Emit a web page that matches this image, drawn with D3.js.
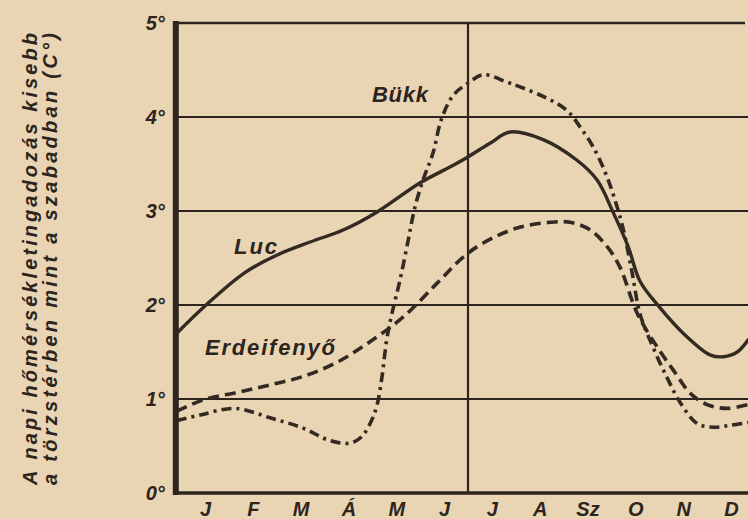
<!DOCTYPE html>
<html>
<head>
<meta charset="utf-8">
<script src="https://cdn.jsdelivr.net/npm/d3@7"></script>
<style>
  html, body { margin: 0; padding: 0; background: #e9d5b3; }
  svg { display: block; }
</style>
</head>
<body>
<svg id="chart" width="748" height="519"></svg>
<script>
// ---- data (month index 0 = January, values in °C) ----
const months = ["J", "F", "M", "Á", "M", "J", "J", "A", "Sz", "O", "N", "D"];
const yTicks = [0, 1, 2, 3, 4, 5];
const yTitle = ["A napi hőmérsékletingadozás kisebb", "a törzstérben mint a szabadban (C°)"];
const seriesNames = ["Luc", "Bükk", "Erdeifenyő"];

const luc = [
  [-0.59, 1.70], [0, 1.99], [0.82, 2.34], [1.5, 2.53], [2.2, 2.67], [2.9, 2.80],
  [3.6, 2.99], [4.5, 3.30], [5.13, 3.47], [5.48, 3.57], [5.96, 3.72], [6.38, 3.84],
  [7.07, 3.76], [7.78, 3.54], [8.2, 3.33], [8.54, 2.98], [8.85, 2.62], [9.1, 2.25],
  [9.5, 1.98], [10.0, 1.70], [10.56, 1.47], [10.84, 1.45], [11.13, 1.50], [11.36, 1.63]
];
const bukk = [
  [-0.59, 0.77], [-0.1, 0.83], [0.63, 0.90], [1.36, 0.80], [2.05, 0.69], [2.6, 0.56],
  [3.03, 0.53], [3.28, 0.60], [3.49, 0.78], [3.6, 0.94], [3.7, 1.23], [3.8, 1.63],
  [3.91, 1.91], [4.08, 2.27], [4.25, 2.69], [4.39, 3.04], [4.56, 3.33], [4.77, 3.62],
  [4.94, 3.97], [5.19, 4.23], [5.5, 4.36], [5.82, 4.45], [6.32, 4.37], [6.59, 4.32],
  [7.15, 4.20], [7.57, 4.07], [7.85, 3.89], [8.12, 3.68], [8.41, 3.36], [8.62, 3.04],
  [8.75, 2.80], [8.93, 2.35], [9.1, 1.90], [9.37, 1.55], [9.66, 1.23], [9.94, 0.96],
  [10.29, 0.74], [10.63, 0.70], [10.98, 0.72], [11.36, 0.75]
];
const erdeifenyo = [
  [-0.59, 0.87], [-0.04, 0.99], [0.67, 1.07], [1.36, 1.15], [2.05, 1.24], [2.76, 1.39],
  [3.45, 1.61], [4.14, 1.87], [4.85, 2.23], [5.4, 2.51], [5.82, 2.66], [6.53, 2.82],
  [7.22, 2.88], [7.64, 2.88], [8.05, 2.80], [8.41, 2.62], [8.68, 2.40], [9.04, 1.91],
  [9.46, 1.55], [9.79, 1.31], [10.15, 1.06], [10.5, 0.94], [10.92, 0.90], [11.36, 0.94]
];

// ---- drawing ----
const ink = "#2c241d";
const font = "'Liberation Sans', Arial, sans-serif";
const svg = d3.select("#chart");
svg.append("rect").attr("width", 748).attr("height", 519).attr("fill", "#e9d5b3");

const x = d3.scaleLinear().domain([0, 11]).range([205, 731]);
const y = d3.scaleLinear().domain([0, 5]).range([493, 23]);
const xLeft = x(-0.59), xRight = x(11.36);

// horizontal grid lines
svg.append("g").selectAll("line").data(yTicks.filter(d => d > 0 && d < 5)).join("line")
  .attr("x1", xLeft).attr("x2", xRight)
  .attr("y1", d => y(d)).attr("y2", d => y(d))
  .attr("stroke", ink).attr("stroke-width", 2.2);
// top frame
svg.append("line").attr("x1", xLeft - 2).attr("x2", 745).attr("y1", y(5)).attr("y2", y(5))
  .attr("stroke", ink).attr("stroke-width", 2.6);
// mid vertical line (1 July)
svg.append("line").attr("x1", x(5.5)).attr("x2", x(5.5)).attr("y1", y(5)).attr("y2", y(0))
  .attr("stroke", ink).attr("stroke-width", 2.2);
// bottom axis line
svg.append("line").attr("x1", xLeft - 3).attr("x2", xRight).attr("y1", y(0)).attr("y2", y(0))
  .attr("stroke", ink).attr("stroke-width", 3.4);
// left thick axis
svg.append("line").attr("x1", xLeft - 1).attr("x2", xLeft - 1).attr("y1", y(5) - 2).attr("y2", y(0) + 2)
  .attr("stroke", ink).attr("stroke-width", 6);

// axes (labels only)
const yAxis = svg.append("g").attr("transform", `translate(${xLeft},0)`)
  .call(d3.axisLeft(y).tickValues(yTicks).tickSize(0).tickPadding(12).tickFormat(d => d + "°"));
yAxis.select(".domain").remove();
yAxis.selectAll("text").attr("font-family", font).attr("font-size", 20)
  .attr("font-style", "italic").attr("font-weight", "bold").attr("fill", ink);

const xAxis = svg.append("g").attr("transform", `translate(0,${y(0)})`)
  .call(d3.axisBottom(x).tickValues(d3.range(12)).tickSize(0).tickPadding(9).tickFormat(i => months[i]));
xAxis.select(".domain").remove();
xAxis.selectAll("text").attr("font-family", font).attr("font-size", 20)
  .attr("font-style", "italic").attr("font-weight", "bold").attr("fill", ink);

// y title (two rotated lines)
const titleX = [37, 57];
yTitle.forEach((t, i) => {
  svg.append("text")
    .attr("transform", `translate(${titleX[i]},485) rotate(-90)`)
    .attr("font-family", font).attr("font-size", 20)
    .attr("font-style", "italic").attr("font-weight", "bold").attr("fill", ink)
    .attr("textLength", 452).attr("lengthAdjust", "spacing")
    .text(t);
});

// curves
const line = d3.line().x(d => x(d[0])).y(d => y(d[1])).curve(d3.curveCatmullRom.alpha(0.5));
const plot = svg.append("g");
plot.append("path").datum(erdeifenyo).attr("d", line)
  .attr("fill", "none").attr("stroke", "#332a22").attr("stroke-width", 3.6)
  .attr("stroke-dasharray", "11 6").attr("stroke-linecap", "butt");
plot.append("path").datum(bukk).attr("d", line)
  .attr("fill", "none").attr("stroke", "#332a22").attr("stroke-width", 3.6)
  .attr("stroke-dasharray", "10 5 3 5").attr("stroke-linecap", "butt");
plot.append("path").datum(luc).attr("d", line)
  .attr("fill", "none").attr("stroke", "#332a22").attr("stroke-width", 3.4)
  .attr("stroke-linecap", "round");

// series labels
const labelPos = [
  { x: 234, y: 254, w: 43 },
  { x: 372, y: 102, w: 56 },
  { x: 205, y: 355, w: 130 }
];
seriesNames.forEach((n, i) => {
  svg.append("text").attr("x", labelPos[i].x).attr("y", labelPos[i].y)
    .attr("font-family", font).attr("font-size", 22)
    .attr("font-style", "italic").attr("font-weight", "bold").attr("fill", ink)
    .attr("textLength", labelPos[i].w).attr("lengthAdjust", "spacing")
    .text(n);
});
</script>
</body>
</html>
